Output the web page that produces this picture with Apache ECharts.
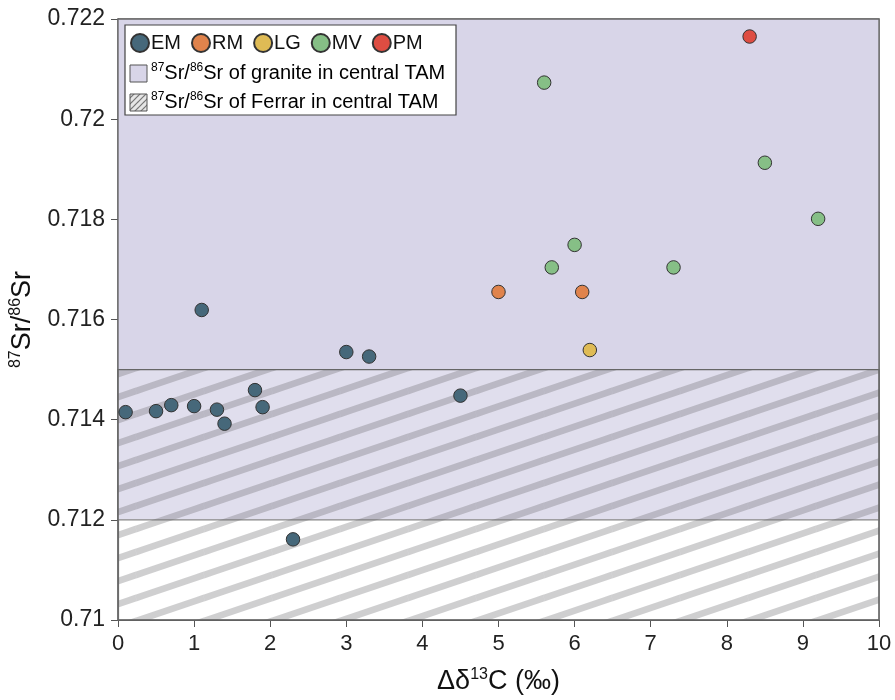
<!DOCTYPE html>
<html>
<head>
<meta charset="utf-8">
<script src="https://cdn.jsdelivr.net/npm/echarts@6/dist/echarts.min.js"></script>
<style>
  html, body { margin: 0; padding: 0; background: #fff; }
  #main { width: 895px; height: 700px; }
</style>
</head>
<body>
<div id="main"></div>
<script type="text/javascript">
// data
var emX = [0.1, 0.5, 0.7, 1.0, 1.3, 1.4, 1.8, 1.9, 1.1, 3.0, 3.3, 4.5, 2.3];
var emY = [0.71415, 0.71417, 0.71429, 0.71427, 0.7142, 0.71392, 0.71459, 0.71425, 0.71619, 0.71535, 0.71526, 0.71448, 0.71161];
var rmX = [5.0, 6.1];
var rmY = [0.71655, 0.71655];
var lgX = [6.2];
var lgY = [0.71539];
var mvX = [5.6, 8.5, 9.2, 6.0, 5.7, 7.3];
var mvY = [0.72073, 0.71913, 0.71801, 0.71749, 0.71704, 0.71704];
var pmX = [8.3];
var pmY = [0.72165];

var graniteRange = [0.712, 0.722];
var ferrarRange = [0.710, 0.715];

var groupNames = ['EM', 'RM', 'LG', 'MV', 'PM'];
var groupColors = ['#46687a', '#e0834c', '#dfbb55', '#86bf86', '#de4d42'];

var FONT = '"Liberation Sans", Arial, Helvetica, sans-serif';

var pairs = function(xs, ys) {
    var out = [];
    for (var i = 0; i < xs.length; i++) {
        out.push([xs[i], ys[i]]);
    }
    return out;
};

// hatch tile: diagonal stripes, bottom-left to top-right
var makeHatch = function(w, h, lw, stripe, bg) {
    var c = document.createElement('canvas');
    c.width = w;
    c.height = h;
    var ctx = c.getContext('2d');
    ctx.strokeStyle = stripe;
    ctx.lineWidth = lw;
    for (var dx = -1; dx <= 1; dx++) {
        for (var dy = -1; dy <= 1; dy++) {
            ctx.beginPath();
            ctx.moveTo(dx * w, h + dy * h);
            ctx.lineTo(w + dx * w, dy * h);
            ctx.stroke();
        }
    }
    if (bg) {
        ctx.globalCompositeOperation = 'destination-over';
        ctx.fillStyle = bg;
        ctx.fillRect(0, 0, w, h);
    }
    return c;
};

var hatchTile = makeHatch(68, 23, 6.6, 'rgba(100,100,104,0.31)', 'rgba(255,255,255,0.22)');
var legendTile = makeHatch(6, 6, 1.2, 'rgba(90,90,90,0.8)', '#e6e6e6');

var seriesData = [pairs(emX, emY), pairs(rmX, rmY), pairs(lgX, lgY), pairs(mvX, mvY), pairs(pmX, pmY)];

var series = [{
    name: 'areas',
    type: 'scatter',
    data: [],
    silent: true,
    z: 1,
    markArea: {
        silent: true,
        label: { show: false },
        data: [
            [{ yAxis: graniteRange[0], itemStyle: { color: '#d8d5e8', borderColor: '#666', borderWidth: 1.3 } },
             { yAxis: graniteRange[1] }],
            [{ yAxis: ferrarRange[0], itemStyle: { color: { image: hatchTile, repeat: 'repeat' }, borderColor: '#666', borderWidth: 1.3 } },
             { yAxis: ferrarRange[1] }]
        ]
    }
}];
for (var i = 0; i < groupNames.length; i++) {
    series.push({
        name: groupNames[i],
        type: 'scatter',
        z: 5,
        symbolSize: 13.5,
        itemStyle: { color: groupColors[i], borderColor: '#333', borderWidth: 1, opacity: 1 },
        data: seriesData[i]
    });
}

var supRich = {
    n: { fontSize: 20, fontFamily: FONT, color: '#111', lineHeight: 22 },
    s: { fontSize: 12, fontFamily: FONT, color: '#111', lineHeight: 22, verticalAlign: 'top', padding: [0, 0, 7, 0] }
};
var titleRich = {
    n: { fontSize: 27, fontFamily: FONT, color: '#111', lineHeight: 30 },
    s: { fontSize: 16, fontFamily: FONT, color: '#111', lineHeight: 30, verticalAlign: 'top', padding: [0, 0, 10, 0] }
};

var option = {
    backgroundColor: '#ffffff',
    animation: false,
    grid: {
        left: 118, right: 16, top: 19, bottom: 80,
        containLabel: false,
        outerBoundsMode: 'none',
        show: true, borderColor: '#555', borderWidth: 1.2, backgroundColor: 'transparent'
    },
    legend: {
        data: groupNames,
        left: 130, top: 33,
        padding: 0,
        orient: 'horizontal',
        icon: 'circle',
        itemWidth: 18, itemHeight: 18,
        itemGap: 10,
        z: 10,
        selectedMode: false,
        textStyle: { fontSize: 20, fontFamily: FONT, color: '#111', padding: [0, 0, 0, -3] }
    },
    xAxis: {
        type: 'value',
        min: 0, max: 10, interval: 1,
        name: '{n|Δδ}{s|13}{n|C (‰)}',
        nameLocation: 'middle',
        nameGap: 47,
        nameTextStyle: { rich: titleRich },
        axisLine: { lineStyle: { color: '#555', width: 1.2 } },
        axisTick: { show: true, inside: false, length: 7, lineStyle: { color: '#555' } },
        axisLabel: { fontSize: 22, fontFamily: FONT, color: '#222', margin: 13 },
        splitLine: { show: false }
    },
    yAxis: {
        type: 'value',
        min: 0.71, max: 0.722, interval: 0.002,
        name: '{s|87}{n|Sr/}{s|86}{n|Sr}',
        nameLocation: 'middle',
        nameRotate: 90,
        nameGap: 79,
        nameTextStyle: { rich: titleRich },
        axisLine: { show: true, lineStyle: { color: '#555', width: 1.2 } },
        axisTick: { show: true, inside: false, length: 7, lineStyle: { color: '#555' } },
        axisLabel: {
            fontSize: 23, fontFamily: FONT, color: '#222', margin: 13,
            formatter: function(v) { return String(+v.toFixed(3)); }
        },
        splitLine: { show: false }
    },
    graphic: [
        {
            type: 'rect', z: 3,
            shape: { x: 125, y: 25, width: 331, height: 90 },
            style: { fill: '#fff', stroke: '#444', lineWidth: 1.2 }
        },
        {
            type: 'rect', z: 11,
            shape: { x: 130, y: 65, width: 17, height: 17 },
            style: { fill: '#d8d5e8', stroke: '#555', lineWidth: 1 }
        },
        {
            type: 'text', z: 11, left: 151, top: 62,
            style: { text: '{s|87}{n|Sr/}{s|86}{n|Sr of granite in central TAM}', rich: supRich }
        },
        {
            type: 'rect', z: 11,
            shape: { x: 130, y: 94, width: 17, height: 17 },
            style: { fill: { image: legendTile, repeat: 'repeat' }, stroke: '#555', lineWidth: 1 }
        },
        {
            type: 'text', z: 11, left: 151, top: 91,
            style: { text: '{s|87}{n|Sr/}{s|86}{n|Sr of Ferrar in central TAM}', rich: supRich }
        }
    ],
    series: series
};

var chart = echarts.init(document.getElementById('main'));
chart.setOption(option);
</script>
</body>
</html>
